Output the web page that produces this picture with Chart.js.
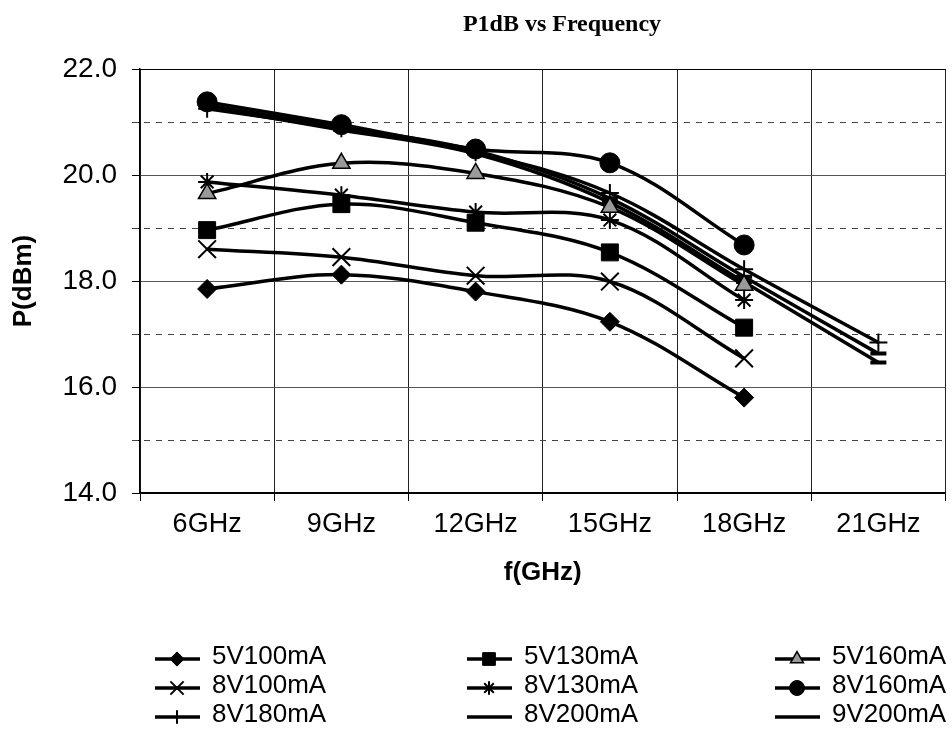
<!DOCTYPE html>
<html>
<head>
<meta charset="utf-8">
<script src="https://cdn.jsdelivr.net/npm/chart.js@4.4.0/dist/chart.umd.min.js"></script>
<style>
html, body { margin: 0; padding: 0; background: #fff; overflow: hidden; }
#wrap { width: 960px; height: 730px; }
</style>
</head>
<body>
<div id="wrap"><canvas id="myChart" width="960" height="730"></canvas></div>
<script>
const freqs = ['6GHz', '9GHz', '12GHz', '15GHz', '18GHz', '21GHz']
const minorLines = [15, 17, 19, 21]

const p5V100 = [17.85, 18.12, 17.80, 17.23, 15.80, null]
const p5V130 = [18.96, 19.45, 19.10, 18.54, 17.12, null]
const p5V160 = [19.65, 20.22, 20.03, 19.39, 17.92, null]
const p8V100 = [18.60, 18.45, 18.10, 17.99, 16.54, null]
const p8V130 = [19.87, 19.62, 19.30, 19.15, 17.64, null]
const p8V160 = [21.38, 20.95, 20.49, 20.23, 18.68, null]
const p8V180 = [21.25, 20.88, 20.43, 19.66, 18.22, 16.84]
const p8V200 = [21.32, 20.90, 20.46, 19.56, 18.08, 16.63]
const p9V200 = [21.28, 20.85, 20.40, 19.48, 17.98, 16.46]

const FONT = "'Liberation Sans', Arial, sans-serif"

function series(label, data, style, radius, fill, bw) {
    return {
        label: label,
        data: data,
        borderColor: '#000',
        borderWidth: 3.5,
        tension: 0.35,
        pointStyle: style,
        pointRadius: radius,
        pointHoverRadius: radius,
        pointBackgroundColor: fill,
        pointBorderColor: '#000',
        pointBorderWidth: bw
    }
}

const datasets = [
    series('5V100mA', p5V100, 'rectRot', 9.5, '#000', 1),
    series('5V130mA', p5V130, 'rect', 12, '#000', 1),
    series('5V160mA', p5V160, 'triangle', 10, '#9a9a9a', 1.5),
    series('8V100mA', p8V100, 'crossRot', 12.5, '#000', 2),
    series('8V130mA', p8V130, 'star', 9, '#000', 2),
    series('8V160mA', p8V160, 'circle', 10, '#000', 1),
    series('8V180mA', p8V180, 'cross', 9, '#000', 2),
    series('8V200mA', p8V200, 'line', 8, '#000', 4),
    series('9V200mA', p9V200, 'line', 8, '#000', 4)
]

// dashed grid lines at odd values
const minorGrid = {
    id: 'minorGrid',
    beforeDatasetsDraw(chart) {
        const { ctx, chartArea, scales } = chart
        ctx.save()
        ctx.strokeStyle = '#444'
        ctx.lineWidth = 1
        ctx.setLineDash([6, 6])
        minorLines.forEach(v => {
            const y = Math.round(scales.y.getPixelForValue(v)) + 0.5
            ctx.beginPath()
            ctx.moveTo(chartArea.left - 8, y)
            ctx.lineTo(chartArea.right, y)
            ctx.stroke()
        })
        ctx.restore()
    }
}

const titleText = {
    id: 'titleText',
    afterDraw(chart) {
        const { ctx } = chart
        ctx.save()
        ctx.fillStyle = '#000'
        ctx.font = "bold 24px 'Liberation Serif', 'Times New Roman', serif"
        ctx.textAlign = 'center'
        ctx.textBaseline = 'middle'
        ctx.fillText('P1dB vs Frequency', 562, 25)
        ctx.restore()
    }
}

// legend: 3 columns x 3 rows, line + marker + text
const legendGrid = {
    id: 'legendGrid',
    afterDraw(chart) {
        const { ctx } = chart
        const cols = [155, 467, 775]
        const rows = [659, 688, 717]
        ctx.save()
        chart.data.datasets.forEach((ds, i) => {
            const x = cols[i % 3]
            const y = rows[Math.floor(i / 3)]
            ctx.strokeStyle = '#000'
            ctx.lineWidth = 3.5
            ctx.setLineDash([])
            ctx.beginPath()
            ctx.moveTo(x, y)
            ctx.lineTo(x + 45, y)
            ctx.stroke()
            if (ds.pointStyle && ds.pointStyle !== 'line') {
                ctx.fillStyle = ds.pointBackgroundColor
                ctx.strokeStyle = '#000'
                ctx.lineWidth = ds.pointBorderWidth
                Chart.helpers.drawPoint(ctx, {
                    pointStyle: ds.pointStyle,
                    radius: ds.pointRadius * 0.75,
                    rotation: 0,
                    borderWidth: ds.pointBorderWidth
                }, x + 22, y)
            }
            ctx.fillStyle = '#000'
            ctx.font = '26px ' + FONT
            ctx.textAlign = 'left'
            ctx.textBaseline = 'middle'
            ctx.fillText(ds.label, x + 57, y - 2)
        })
        ctx.restore()
    }
}

const ctx = document.getElementById('myChart')

const myChart = new Chart(ctx, {
    type: 'line',
    data: {
        labels: freqs,
        datasets: datasets
    },
    options: {
        responsive: false,
        animation: false,
        layout: { padding: { top: 69, left: 0, right: 3, bottom: 137 } },
        plugins: {
            legend: { display: false },
            tooltip: { enabled: false }
        },
        scales: {
            x: {
                offset: true,
                afterFit(scale) { scale.height = 100 },
                grid: {
                    offset: true,
                    color: '#222',
                    lineWidth: 1,
                    tickLength: 8,
                    tickColor: '#000'
                },
                border: { color: '#000', width: 1.5 },
                ticks: {
                    color: '#000',
                    padding: 7,
                    maxRotation: 0,
                    font: { family: FONT, size: 27 }
                },
                title: {
                    display: true,
                    text: 'f(GHz)',
                    color: '#000',
                    padding: { top: 0, bottom: 5 },
                    font: { family: FONT, size: 26, weight: 'bold' }
                }
            },
            y: {
                min: 14,
                max: 22,
                afterFit(scale) { scale.width = 140 },
                grid: {
                    color: c => {
                        const v = c.tick ? c.tick.value : 0
                        if (v === 22 || v === 14) return '#000'
                        return v % 2 === 0 ? '#555' : 'rgba(0,0,0,0)'
                    },
                    lineWidth: 1,
                    tickLength: 8,
                    tickColor: '#000'
                },
                border: { color: '#000', width: 1.5 },
                ticks: {
                    stepSize: 1,
                    color: '#000',
                    padding: 15,
                    font: { family: FONT, size: 28 },
                    callback: v => (v % 2 === 0 ? v.toFixed(1) : '')
                },
                title: {
                    display: true,
                    text: 'P(dBm)',
                    color: '#000',
                    padding: { top: 8, bottom: 0 },
                    font: { family: FONT, size: 26, weight: 'bold' }
                }
            }
        }
    },
    plugins: [minorGrid, titleText, legendGrid]
})
</script>
</body>
</html>
